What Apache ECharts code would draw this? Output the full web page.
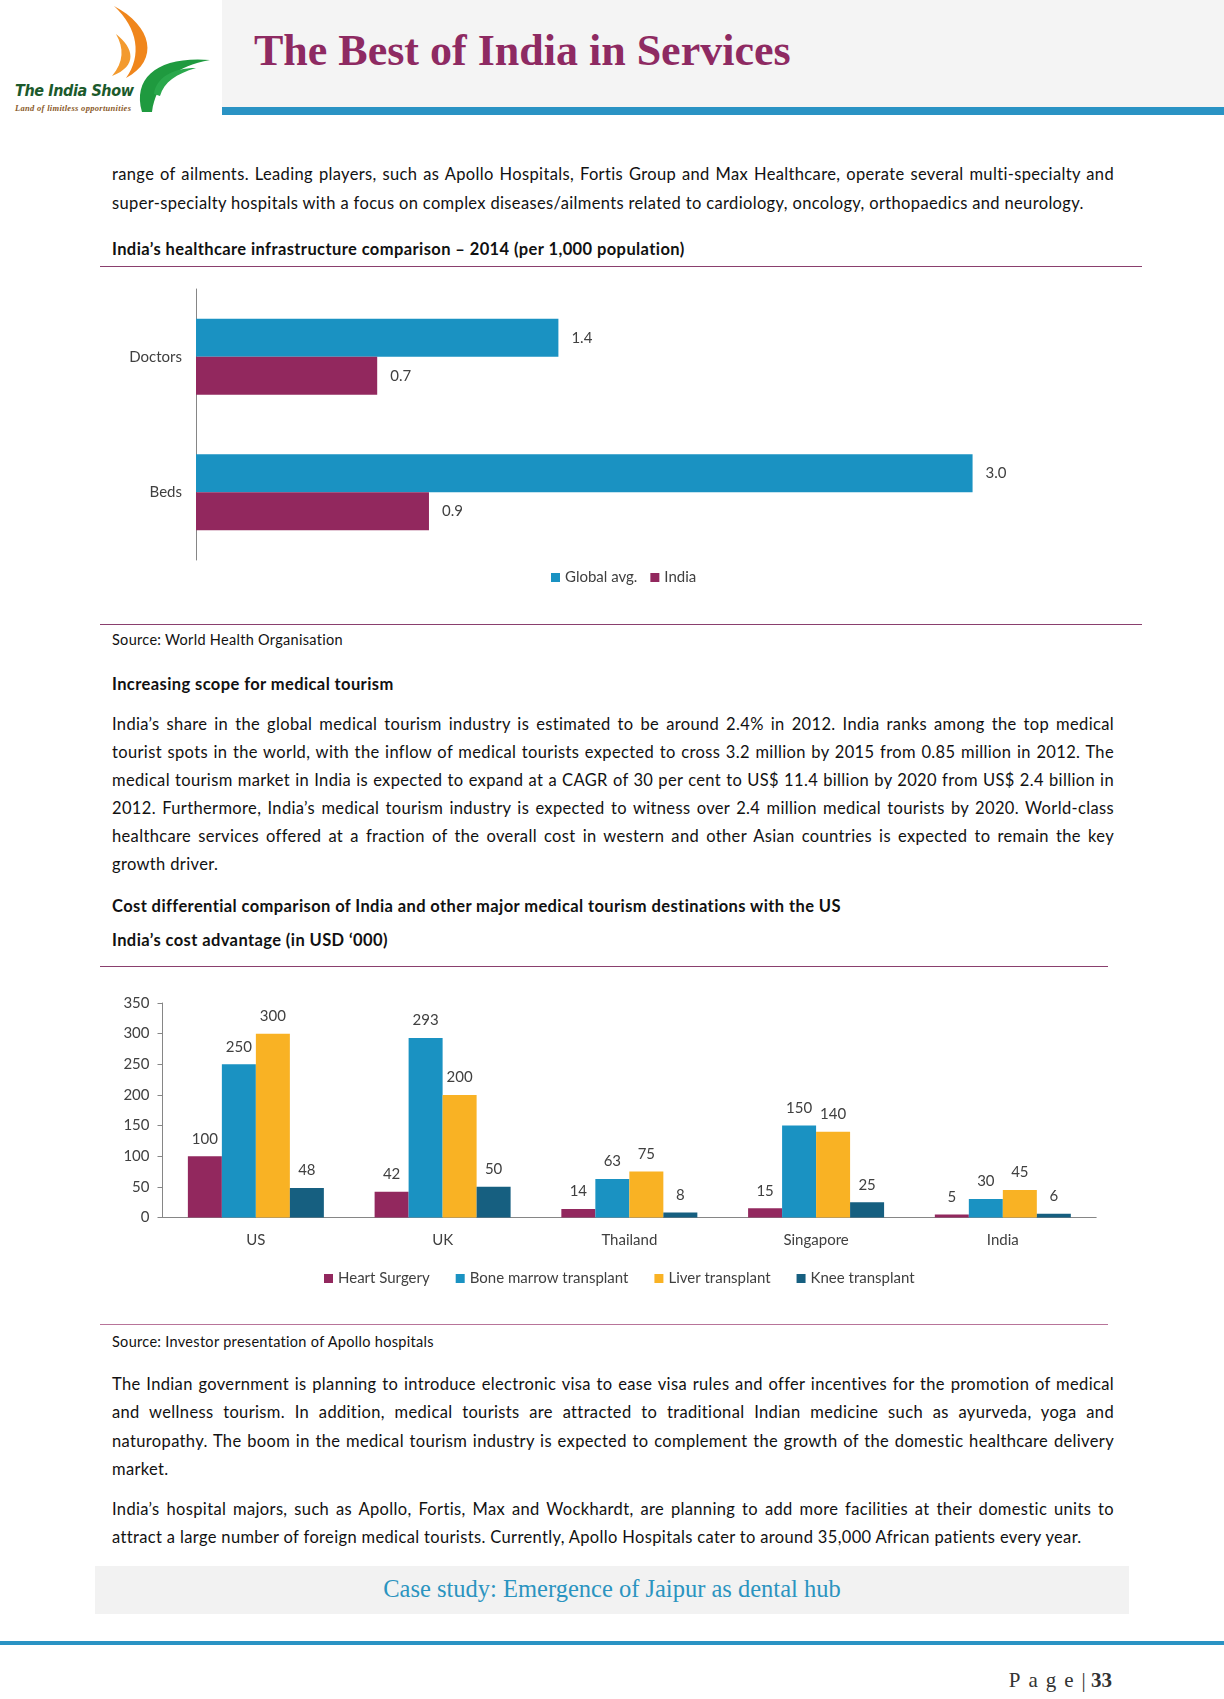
<!DOCTYPE html>
<html>
<head>
<meta charset="utf-8">
<script src="https://cdn.jsdelivr.net/npm/echarts@6/dist/echarts.min.js"></script>
<style>
  html, body { margin: 0; padding: 0; background: #ffffff; }
  #page { position: relative; width: 1224px; height: 1699px; overflow: hidden; background: #fff; font-family: Lato, "Open Sans", sans-serif; color: #111; }
  .abs { position: absolute; }
  .ln { position: absolute; left: 112px; width: 1002px; height: 28px; line-height: 28px; font-size: 16.5px; letter-spacing: 0.35px; white-space: nowrap; }
  .j { text-align: justify; text-align-last: justify; white-space: normal; }
  .b { font-weight: bold; font-size: 16.5px; letter-spacing: 0.4px; }
  .src { font-size: 14.5px; letter-spacing: 0.3px; color: #111; }
  .rule { position: absolute; height: 0; border-top: 1.5px solid #8a3f6e; }
</style>
</head>
<body>
<div id="page">
  <!-- header -->
  <div class="abs" style="left:222px;top:0;width:1002px;height:107px;background:#f4f4f4;"></div>
  <div class="abs" style="left:222px;top:107px;width:1002px;height:8px;background:#2a93c4;"></div>
  <svg class="abs" style="left:0;top:0;" width="222" height="120">
    <path d="M114 6 C152 26 160 60 126 78 C142 56 138 28 114 6 Z" fill="#f0861c"/>
    <path d="M116 34 C134 48 138 66 112 76 C124 62 124 48 116 34 Z" fill="#f39a2e"/>
    <path d="M142 112 C132 76 160 56 210 60 C176 66 156 82 152 112 Z" fill="#1f9a3f"/>
    <path d="M154 94 C156 78 172 68 196 68 C176 74 164 82 160 96 Z" fill="#2aa84c"/>
  </svg>
  <div class="abs" style="left:15px;top:81px;font-family:'DejaVu Sans Condensed','Liberation Sans Narrow',sans-serif;font-stretch:condensed;font-style:italic;font-weight:bold;font-size:16px;letter-spacing:-0.4px;color:#1c5a2c;white-space:nowrap;">The India Show</div>
  <div class="abs" style="left:15px;top:103px;font-family:'Liberation Serif',serif;font-style:italic;font-weight:bold;font-size:8.5px;color:#8a5a2a;white-space:nowrap;letter-spacing:0.3px;">Land of limitless opportunities</div>
  <div class="abs" style="left:254px;top:26px;height:50px;line-height:50px;font-family:'Liberation Serif',serif;font-weight:bold;font-size:44px;color:#8e2a62;white-space:nowrap;">The Best of India in Services</div>

  <!-- paragraph 1 -->
  <div class="ln j" style="top:160px;">range of ailments. Leading players, such as Apollo Hospitals, Fortis Group and Max Healthcare, operate several multi-specialty and</div>
  <div class="ln" style="top:189px;">super-specialty hospitals with a focus on complex diseases/ailments related to cardiology, oncology, orthopaedics and neurology.</div>

  <div class="ln b" style="top:235px;">India’s healthcare infrastructure comparison – 2014 (per 1,000 population)</div>
  <div class="rule" style="left:100px;top:266px;width:1042px;"></div>
  <div id="chart1" class="abs" style="left:100px;top:270px;width:1042px;height:350px;"></div>
  <div class="rule" style="left:100px;top:624px;width:1042px;"></div>
  <div class="ln src" style="top:626px;">Source: World Health Organisation</div>

  <div class="ln b" style="top:670px;">Increasing scope for medical tourism</div>
  <div class="ln j" style="top:710px;">India’s share in the global medical tourism industry is estimated to be around 2.4% in 2012. India ranks among the top medical</div>
  <div class="ln j" style="top:738px;">tourist spots in the world, with the inflow of medical tourists expected to cross 3.2 million by 2015 from 0.85 million in 2012. The</div>
  <div class="ln j" style="top:766px;">medical tourism market in India is expected to expand at a CAGR of 30 per cent to US$ 11.4 billion by 2020 from US$ 2.4 billion in</div>
  <div class="ln j" style="top:794px;">2012. Furthermore, India’s medical tourism industry is expected to witness over 2.4 million medical tourists by 2020. World-class</div>
  <div class="ln j" style="top:822px;">healthcare services offered at a fraction of the overall cost in western and other Asian countries is expected to remain the key</div>
  <div class="ln" style="top:850px;">growth driver.</div>

  <div class="ln b" style="top:892px;">Cost differential comparison of India and other major medical tourism destinations with the US</div>
  <div class="ln b" style="top:926px;">India’s cost advantage (in USD ‘000)</div>
  <div class="rule" style="left:100px;top:966px;width:1008px;"></div>
  <div id="chart2" class="abs" style="left:100px;top:970px;width:1008px;height:350px;"></div>
  <div class="rule" style="left:100px;top:1324px;width:1008px;border-top-color:#b87499;"></div>
  <div class="ln src" style="top:1328px;">Source: Investor presentation of Apollo hospitals</div>

  <div class="ln j" style="top:1370px;">The Indian government is planning to introduce electronic visa to ease visa rules and offer incentives for the promotion of medical</div>
  <div class="ln j" style="top:1398px;">and wellness tourism. In addition, medical tourists are attracted to traditional Indian medicine such as ayurveda, yoga and</div>
  <div class="ln j" style="top:1427px;">naturopathy. The boom in the medical tourism industry is expected to complement the growth of the domestic healthcare delivery</div>
  <div class="ln" style="top:1455px;">market.</div>

  <div class="ln j" style="top:1495px;">India’s hospital majors, such as Apollo, Fortis, Max and Wockhardt, are planning to add more facilities at their domestic units to</div>
  <div class="ln" style="top:1523px;">attract a large number of foreign medical tourists. Currently, Apollo Hospitals cater to around 35,000 African patients every year.</div>

  <div class="abs" style="left:95px;top:1566px;width:1034px;height:48px;background:#f2f2f2;"></div>
  <div class="abs" style="left:95px;top:1566px;width:1034px;height:46px;line-height:46px;text-align:center;font-family:'Liberation Serif',serif;font-size:24.5px;color:#2b94c0;">Case study: Emergence of Jaipur as dental hub</div>

  <div class="abs" style="left:0;top:1641px;width:1224px;height:4px;background:#2a93c4;"></div>
  <div class="abs" style="right:112px;top:1667px;height:26px;line-height:26px;font-family:'Liberation Serif',serif;font-size:21px;color:#333;white-space:nowrap;"><span style="letter-spacing:8px;">Page</span>| <b>33</b></div>
</div>

<script>
// ---------- data ----------
const infraCategories = ['Doctors', 'Beds'];
const infraSeriesNames = ['Global avg.', 'India'];
const globalAvg = [1.4, 3.0];
const indiaInfra = [0.7, 0.9];

const costCategories = ['US', 'UK', 'Thailand', 'Singapore', 'India'];
const costSeriesNames = ['Heart Surgery', 'Bone marrow transplant', 'Liver transplant', 'Knee transplant'];
const heartSurgery = [100, 42, 14, 15, 5];
const boneMarrow = [250, 293, 63, 150, 30];
const liverTransplant = [300, 200, 75, 140, 45];
const kneeTransplant = [48, 50, 8, 25, 6];
const costAxisMin = 0, costAxisMax = 350, costAxisStep = 50;

// ---------- styles ----------
const FONT = 'Lato';
const FS = 15;
const C_BLUE = '#1a92c2', C_MAG = '#92285e', C_YEL = '#f9b224', C_TEAL = '#165f80';
const AXIS_C = '#868686', LABEL_C = '#404040';

// ---------- chart 1 ----------
const c1 = echarts.init(document.getElementById('chart1'), null, { renderer: 'canvas' });
const infraLabel = {
  show: true, position: 'right', distance: 13, color: LABEL_C, fontFamily: FONT, fontSize: FS,
  formatter: p => Number(p.value).toFixed(1)
};
c1.setOption({
  animation: false,
  textStyle: { fontFamily: FONT },
  grid: { left: 96, top: 19, width: 906, height: 271 },
  xAxis: { type: 'value', min: 0, max: 3.5, show: false },
  yAxis: {
    type: 'category', data: infraCategories, inverse: true,
    axisLine: { lineStyle: { color: AXIS_C } },
    axisTick: { length: 5, lineStyle: { color: AXIS_C } },
    axisLabel: { color: LABEL_C, fontFamily: FONT, fontSize: FS, margin: 14 }
  },
  legend: {
    left: 446, top: 295, itemWidth: 9, itemHeight: 9, itemGap: 13,
    icon: 'rect',
    textStyle: { color: LABEL_C, fontFamily: FONT, fontSize: FS },
    data: infraSeriesNames
  },
  series: [
    { name: infraSeriesNames[0], type: 'bar', data: globalAvg, barWidth: 38, barGap: '0%', itemStyle: { color: C_BLUE }, label: infraLabel },
    { name: infraSeriesNames[1], type: 'bar', data: indiaInfra, barWidth: 38, barGap: '0%', itemStyle: { color: C_MAG }, label: infraLabel }
  ]
});

// ---------- chart 2 ----------
const c2 = echarts.init(document.getElementById('chart2'), null, { renderer: 'canvas' });
const costLabel = { show: true, position: 'top', distance: 10, color: LABEL_C, fontFamily: FONT, fontSize: FS };
const costData = [heartSurgery, boneMarrow, liverTransplant, kneeTransplant];
const costColors = [C_MAG, C_BLUE, C_YEL, C_TEAL];
c2.setOption({
  animation: false,
  textStyle: { fontFamily: FONT },
  grid: { left: 62.5, top: 33, width: 933.7, height: 214.5 },
  xAxis: {
    type: 'category', data: costCategories,
    axisLine: { lineStyle: { color: AXIS_C } },
    axisTick: { length: 5, lineStyle: { color: AXIS_C } },
    axisLabel: { color: LABEL_C, fontFamily: FONT, fontSize: FS, margin: 15 }
  },
  yAxis: {
    type: 'value', min: costAxisMin, max: costAxisMax, interval: costAxisStep,
    axisLine: { show: true, lineStyle: { color: AXIS_C } },
    axisTick: { show: true, length: 5, lineStyle: { color: AXIS_C } },
    splitLine: { show: false },
    axisLabel: { color: LABEL_C, fontFamily: FONT, fontSize: FS, margin: 13 }
  },
  legend: {
    left: 219, top: 296, itemWidth: 9, itemHeight: 9, itemGap: 26,
    icon: 'rect',
    textStyle: { color: LABEL_C, fontFamily: FONT, fontSize: FS },
    data: costSeriesNames
  },
  series: costSeriesNames.map((n, i) => ({
    name: n, type: 'bar', data: costData[i], barWidth: 34, barGap: '0%',
    itemStyle: { color: costColors[i] }, label: costLabel
  }))
});
</script>
</body>
</html>
